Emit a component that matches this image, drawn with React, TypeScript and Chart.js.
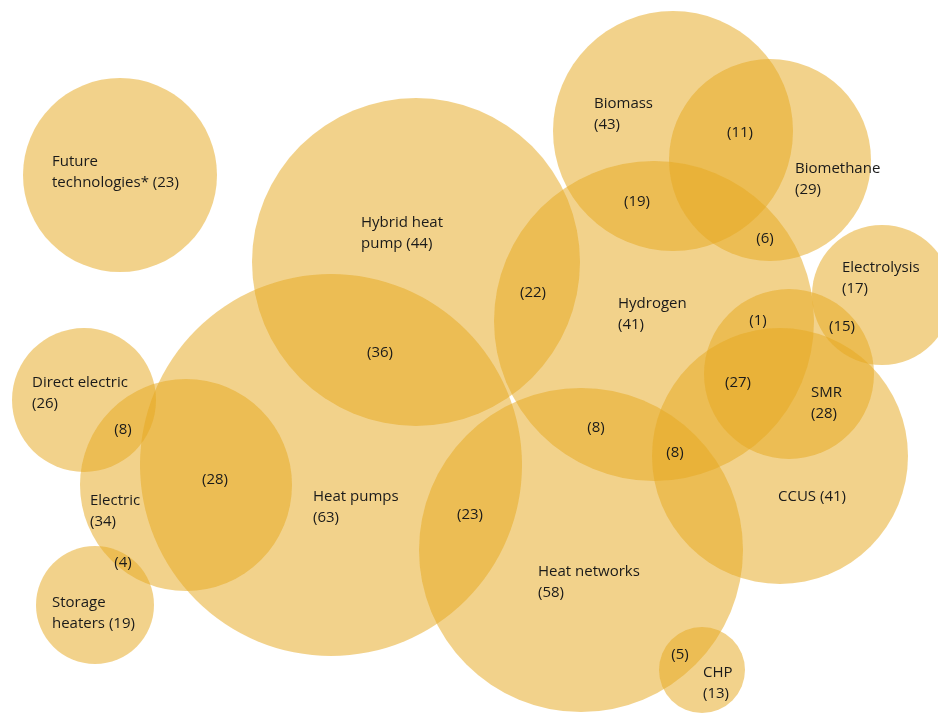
import React, { useEffect, useRef } from "react";
import { Chart, registerables } from "chart.js";

Chart.register(...registerables);

// Circles (sets): name, count, centre x / y and radius in chart units
const setNames = [
  "Future technologies*", "Hybrid heat pump", "Heat pumps", "Direct electric", "Electric",
  "Storage heaters", "Biomass", "Biomethane", "Hydrogen", "Electrolysis", "SMR", "CCUS",
  "Heat networks", "CHP",
];
const setCounts = [23, 44, 63, 26, 34, 19, 43, 29, 41, 17, 28, 41, 58, 13];
const setX = [120, 416, 331, 84, 186, 95, 673, 770, 654, 882, 789, 780, 581, 702];
const setY = [175, 262, 465, 400, 485, 605, 131, 160, 321, 295, 374, 456, 550, 670];
const setR = [97, 164, 191, 72, 106, 59, 120, 101, 160, 70, 85, 128, 162, 43];

// Set labels: text lines and anchor (left x, first-line centre y)
const labelLines = [
  ["Future", "technologies* (23)"],
  ["Hybrid heat", "pump (44)"],
  ["Heat pumps", "(63)"],
  ["Direct electric", "(26)"],
  ["Electric", "(34)"],
  ["Storage", "heaters (19)"],
  ["Biomass", "(43)"],
  ["Biomethane", "(29)"],
  ["Hydrogen", "(41)"],
  ["Electrolysis", "(17)"],
  ["SMR", "(28)"],
  ["CCUS (41)"],
  ["Heat networks", "(58)"],
  ["CHP", "(13)"],
];
const labelX = [52, 361, 313, 32, 90, 52, 594, 795, 618, 842, 811, 778, 538, 703];
const labelY = [162, 223, 497, 383, 501, 603, 104, 169, 304, 268, 393, 497, 572, 673];

// Overlap counts (centred)
const overlapValues = [11, 19, 6, 22, 36, 1, 15, 27, 8, 8, 8, 28, 4, 23, 5];
const overlapX = [740, 637, 765, 533, 380, 758, 842, 738, 596, 675, 123, 215, 123, 470, 680];
const overlapY = [133, 202, 239, 293, 353, 321, 327, 383, 428, 453, 430, 480, 563, 515, 655];

const FONT = '15px "Open Sans", Lato, sans-serif';
const TEXT_COLOR = "#1a1a1a";
const LINE_GAP = 21;

const labelPlugin = {
  id: "vennLabels",
  afterDatasetsDraw(chart: any) {
    const { ctx, scales } = chart;
    const xs = scales.x;
    const ys = scales.y;
    ctx.save();
    ctx.font = FONT;
    ctx.fillStyle = TEXT_COLOR;
    ctx.textBaseline = "middle";
    ctx.textAlign = "left";
    labelLines.forEach((lines, i) => {
      const px = xs.getPixelForValue(labelX[i]);
      const py = ys.getPixelForValue(labelY[i]);
      lines.forEach((t, j) => ctx.fillText(t, px, py + j * LINE_GAP));
    });
    ctx.textAlign = "center";
    overlapValues.forEach((v, i) => {
      ctx.fillText(`(${v})`, xs.getPixelForValue(overlapX[i]), ys.getPixelForValue(overlapY[i]));
    });
    ctx.restore();
  },
};

export default function App() {
  const ref = useRef<HTMLCanvasElement | null>(null);
  useEffect(() => {
    document.body.style.margin = "0";
    const canvas = ref.current;
    if (!canvas) return;
    const chart = new Chart(canvas, {
      type: "bubble",
      data: {
        datasets: [
          {
            label: "Sets",
            data: setNames.map((n, i) => ({ x: setX[i], y: setY[i], r: setR[i] })),
            backgroundColor: "rgba(230, 168, 32, 0.52)",
            borderWidth: 0,
            hoverRadius: 0,
            hoverBorderWidth: 0,
            clip: false as any,
          },
        ],
      },
      options: {
        responsive: false,
        animation: false,
        devicePixelRatio: 1,
        events: [],
        layout: { autoPadding: false, padding: 0 },
        scales: {
          x: { type: "linear", min: 0, max: 938, display: false },
          y: { type: "linear", min: 0, max: 715, reverse: true, display: false },
        },
        plugins: {
          legend: { display: false },
          tooltip: { enabled: false },
        },
      },
      plugins: [labelPlugin],
    });
    return () => chart.destroy();
  }, []);
  return (
    <div style={{ position: "fixed", left: 0, top: 0, width: 938, height: 715, background: "#fff" }}>
      <canvas ref={ref} width={938} height={715} style={{ display: "block" }} />
    </div>
  );
}
